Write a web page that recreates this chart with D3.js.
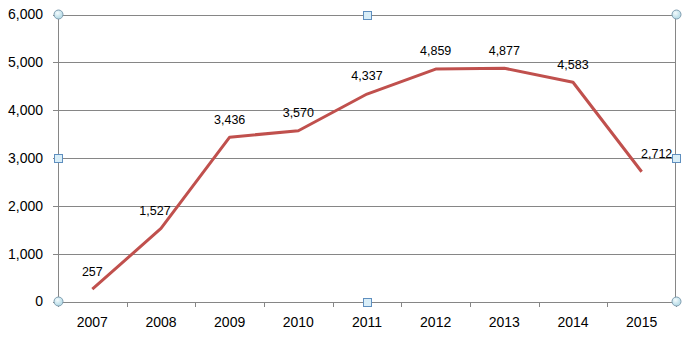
<!DOCTYPE html>
<html><head><meta charset="utf-8">
<script src="https://cdn.jsdelivr.net/npm/d3@7"></script>
<style>body{margin:0;background:#fff}svg{display:block}text{font-family:"Liberation Sans",Arial,sans-serif;fill:#000}</style>
</head><body>
<script>
const years = ["2007","2008","2009","2010","2011","2012","2013","2014","2015"];
const values = [257,1527,3436,3570,4337,4859,4877,4583,2712];
const yTicks = [0,1000,2000,3000,4000,5000,6000];
const labelNudgeX = [0,-6,0,0,0,0,0,0,15];

(function(){
const W=690,H=339, pL=58, pR=676, pT=14.5, pB=301.5;
const svg=d3.select("body").append("svg").attr("width",W).attr("height",H);
const x=d3.scaleBand().domain(years).range([pL,pR]);
const y=d3.scaleLinear().domain([0,6000]).range([pB,pT]);
const grid="#868686";

svg.append("g").selectAll("line").data(yTicks).join("line")
  .attr("x1",pL-5).attr("x2",pR).attr("y1",d=>Math.round(y(d))+0.5).attr("y2",d=>Math.round(y(d))+0.5)
  .attr("stroke",grid).attr("stroke-width",1);
svg.append("g").selectAll("text").data(yTicks).join("text")
  .attr("x",43).attr("y",d=>y(d)).attr("dy","0.35em").attr("text-anchor","end")
  .style("font-size","14px").text(d=>d3.format(",")(d));
svg.append("line").attr("x1",pL+0.5).attr("x2",pL+0.5).attr("y1",pT).attr("y2",pB).attr("stroke",grid);
svg.append("line").attr("x1",pR-0.5).attr("x2",pR-0.5).attr("y1",pT).attr("y2",pB).attr("stroke",grid);
const bounds=years.map(d=>x(d)).concat([pR]);
svg.append("g").selectAll("line").data(bounds).join("line")
  .attr("x1",d=>Math.round(d)+0.5).attr("x2",d=>Math.round(d)+0.5)
  .attr("y1",Math.round(pB)).attr("y2",Math.round(pB)+5).attr("stroke",grid);
svg.append("g").selectAll("text").data(years).join("text")
  .attr("x",d=>x(d)+x.bandwidth()/2).attr("y",322).attr("dy","0.35em").attr("text-anchor","middle")
  .style("font-size","14px").text(d=>d);
const pts=years.map((d,i)=>[x(d)+x.bandwidth()/2,y(values[i])]);
svg.append("path").attr("d",d3.line()(pts)).attr("fill","none")
  .attr("stroke","#C0504D").attr("stroke-width",3).attr("stroke-linejoin","round");
svg.append("g").selectAll("text").data(values).join("text")
  .attr("x",(d,i)=>pts[i][0]+labelNudgeX[i]).attr("y",(d,i)=>pts[i][1]-18).attr("dy","0.35em")
  .attr("text-anchor","middle").style("font-size","12.5px").text(d=>d3.format(",")(d));
const cx=(pL+pR)/2, cy=(pT+pB)/2;
const circles=[[pL,pT],[pR,pT],[pL,pB],[pR,pB]];
const squares=[[cx,pT],[pL,cy],[pR,cy],[cx,pB]];
const defs=svg.append("defs");
const g1=defs.append("radialGradient").attr("id","hc").attr("cx","40%").attr("cy","35%");
g1.append("stop").attr("offset","0%").attr("stop-color","#f4fbfd");
g1.append("stop").attr("offset","100%").attr("stop-color","#bfe0ea");
svg.append("g").selectAll("circle").data(circles).join("circle")
  .attr("cx",d=>d[0]+0.5).attr("cy",d=>d[1]).attr("r",4.5)
  .attr("fill","url(#hc)").attr("stroke","#7f9db0").attr("stroke-width",1);
svg.append("g").selectAll("rect").data(squares).join("rect")
  .attr("x",d=>Math.round(d[0])-3.5).attr("y",d=>Math.round(d[1])-3.5).attr("width",8).attr("height",8)
  .attr("fill","#d9eef8").attr("stroke","#5f8fbf").attr("stroke-width",1);
})();
</script>
</body></html>
